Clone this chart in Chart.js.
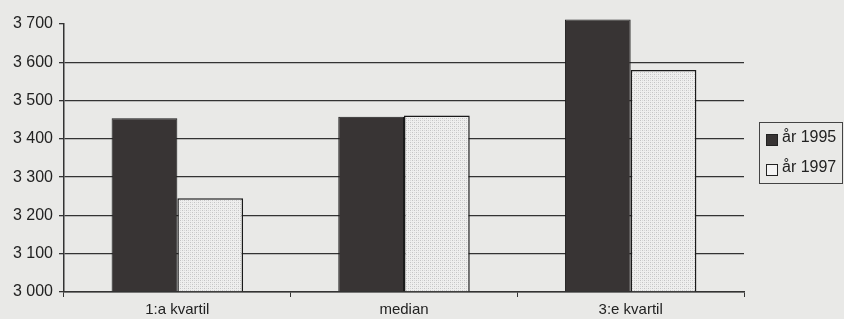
<!DOCTYPE html>
<html><head><meta charset="utf-8">
<script src="https://cdn.jsdelivr.net/npm/chart.js@4"></script>
<style>
html,body{margin:0;padding:0;background:#e9e9e7;}
#wrap{position:relative;width:844px;height:319px;overflow:hidden;}
#legend{position:absolute;left:759px;top:122px;width:82px;height:60px;border:1px solid #444;font:16px "Liberation Sans",Arial,sans-serif;color:#222;}
.item{position:absolute;left:6px;height:18px;line-height:18px;white-space:nowrap;}
.sw{display:inline-block;width:10px;height:10px;border:1px solid #222;margin-right:4px;vertical-align:-4px;}
</style></head>
<body><div id="wrap"><canvas id="c" width="844" height="319"></canvas><div id="legend"></div></div>
<script>
const categories = ["1:a kvartil", "median", "3:e kvartil"];
const seriesNames = ["år 1995", "år 1997"];
const values1995 = [3454, 3458, 3712];
const values1997 = [3245, 3461, 3580];
const yTicks = [3000, 3100, 3200, 3300, 3400, 3500, 3600, 3700];
const baseValue = 3000;

function makePattern(){
  const p = document.createElement('canvas'); p.width = 4; p.height = 4;
  const g = p.getContext('2d');
  g.fillStyle = '#efefee'; g.fillRect(0,0,4,4);
  g.fillStyle = '#c4c4c4'; g.fillRect(0,0,1,1); g.fillRect(2,2,1,1);
  g.fillStyle = '#d8d8d8'; g.fillRect(2,0,1,1); g.fillRect(0,2,1,1);
  return document.getElementById('c').getContext('2d').createPattern(p,'repeat');
}
const pat = makePattern();
const colors1995 = '#383434';
const FONT = '"Liberation Sans", Arial, sans-serif';

const ctx = document.getElementById('c');
new Chart(ctx, {
  type: 'bar',
  data: {
    labels: categories,
    datasets: [
      {label: seriesNames[0], data: values1995, base: baseValue, backgroundColor: colors1995, borderColor: '#1a1a1a', borderWidth: 1, clip: false},
      {label: seriesNames[1], data: values1997, base: baseValue, backgroundColor: pat, borderColor: '#1a1a1a', borderWidth: 1.5, clip: false}
    ]
  },
  options: {
    responsive: false, animation: false,
    layout: {padding: {top: 24, right: 100, left: 0, bottom: 0}},
    categoryPercentage: 0.58, barPercentage: 1.0,
    plugins: {legend: {display: false}, tooltip: {enabled: false}},
    scales: {
      x: {
        offset: true,
        grid: {offset: true, drawOnChartArea: false, color: '#333', tickLength: 5, lineWidth: 1},
        border: {color: '#333', width: 1.5},
        ticks: {color: '#222', font: {family: FONT, size: 15}, padding: 4},
        afterFit: s => { s.height = 27; }
      },
      y: {
        min: 3000, max: 3700,
        afterBuildTicks: s => { s.ticks = yTicks.map(v => ({value: v})); },
        grid: {color: c => (c.tick && c.tick.value === 3700) ? 'rgba(0,0,0,0)' : '#333', lineWidth: 1.3, tickLength: 5, drawTicks: true, tickColor: '#333'},
        border: {color: '#333', width: 1.5},
        ticks: {color: '#222', font: {family: FONT, size: 16}, padding: 6,
          callback: v => String(v).replace(/\B(?=(\d{3})+(?!\d))/g, ' ')},
        afterFit: s => { s.width = 64; }
      }
    }
  }
});

const leg = document.getElementById('legend');
seriesNames.forEach((n, i) => {
  const d = document.createElement('div'); d.className = 'item'; d.style.top = (i === 0 ? 5 : 35) + 'px';
  const sw = document.createElement('span'); sw.className = 'sw';
  sw.style.background = i === 0 ? colors1995 : '#f4f4f4';
  d.appendChild(sw); d.appendChild(document.createTextNode(n)); leg.appendChild(d);
});
</script></body></html>
